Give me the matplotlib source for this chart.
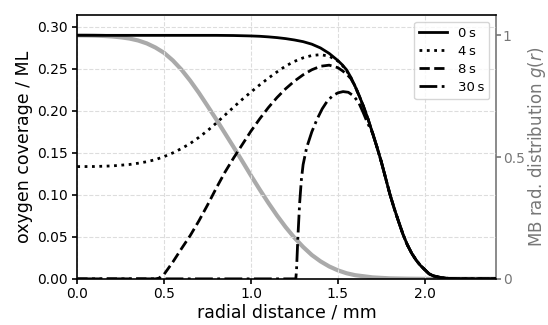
import matplotlib
matplotlib.use("Agg")
import matplotlib.pyplot as plt

# radial distance / mm and oxygen coverage / ML
x_0s = [0.0, 0.8, 0.9, 1.0, 1.05, 1.1, 1.15, 1.2, 1.25, 1.3, 1.35, 1.4, 1.45,
        1.5, 1.525, 1.55, 1.575, 1.6, 1.625, 1.65, 1.675, 1.7, 1.725, 1.75,
        1.775, 1.8, 1.825, 1.85, 1.875, 1.9, 1.925, 1.95, 1.975, 2.0, 2.025,
        2.05, 2.1, 2.15, 2.2, 2.41]
y_0s = [0.2900, 0.2900, 0.2898, 0.2893, 0.2889, 0.2882, 0.2873, 0.2861,
        0.2845, 0.2825, 0.2795, 0.2750, 0.2685, 0.2600, 0.2550, 0.2490,
        0.2400, 0.2290, 0.2170, 0.2040, 0.1895, 0.1735, 0.1570, 0.1395,
        0.1200, 0.1005, 0.0835, 0.0680, 0.0530, 0.0405, 0.0305, 0.0225,
        0.0160, 0.0110, 0.0060, 0.0035, 0.0013, 0.0003, 0.0, 0.0]

x_4s = [0.0, 0.1, 0.2, 0.3, 0.35, 0.4, 0.45, 0.5, 0.55, 0.6, 0.65, 0.7, 0.75,
        0.8, 0.85, 0.9, 0.95, 1.0, 1.05, 1.1, 1.15, 1.2, 1.25, 1.3, 1.35,
        1.4, 1.45, 1.5, 1.525, 1.55, 1.575, 1.6, 1.625, 1.65, 1.675, 1.7,
        1.725, 1.75, 1.775, 1.8, 1.825, 1.85, 1.875, 1.9, 1.925, 1.95, 1.975,
        2.0, 2.025, 2.05, 2.1, 2.15, 2.2, 2.41]
y_4s = [0.1337, 0.1338, 0.1345, 0.1362, 0.1377, 0.1395, 0.1420, 0.1456,
        0.1500, 0.1552, 0.1612, 0.1685, 0.1765, 0.1855, 0.1950, 0.2045,
        0.2138, 0.2225, 0.2310, 0.2390, 0.2465, 0.2535, 0.2590, 0.2632,
        0.2660, 0.2670, 0.2652, 0.2595, 0.2545, 0.2480, 0.2395, 0.2290,
        0.2170, 0.2040, 0.1895, 0.1735, 0.1570, 0.1395, 0.1200, 0.1005,
        0.0835, 0.0680, 0.0530, 0.0405, 0.0305, 0.0225, 0.0160, 0.0110,
        0.0060, 0.0035, 0.0013, 0.0003, 0.0, 0.0]

x_8s = [0.0, 0.45, 0.47, 0.5, 0.55, 0.6, 0.65, 0.7, 0.75, 0.8, 0.85, 0.9,
        0.95, 1.0, 1.05, 1.1, 1.15, 1.2, 1.25, 1.3, 1.35, 1.4, 1.45, 1.5,
        1.525, 1.55, 1.575, 1.6, 1.625, 1.65, 1.675, 1.7, 1.725, 1.75, 1.775,
        1.8, 1.825, 1.85, 1.875, 1.9, 1.925, 1.95, 1.975, 2.0, 2.025, 2.05,
        2.1, 2.15, 2.2, 2.41]
y_8s = [0.0, 0.0, 0.0008, 0.0055, 0.0200, 0.0360, 0.0515, 0.0690, 0.0880,
        0.1080, 0.1270, 0.1440, 0.1600, 0.1760, 0.1905, 0.2040, 0.2160,
        0.2265, 0.2355, 0.2430, 0.2490, 0.2532, 0.2545, 0.2515, 0.2480,
        0.2440, 0.2385, 0.2290, 0.2170, 0.2040, 0.1895, 0.1735, 0.1570,
        0.1395, 0.1200, 0.1005, 0.0835, 0.0680, 0.0530, 0.0405, 0.0305,
        0.0225, 0.0160, 0.0110, 0.0060, 0.0035, 0.0013, 0.0003, 0.0, 0.0]

x_30s = [0.0, 1.258, 1.262, 1.266, 1.27, 1.275, 1.28, 1.29, 1.30, 1.32, 1.35,
         1.38, 1.41, 1.44, 1.47, 1.50, 1.53, 1.56, 1.59, 1.62, 1.645, 1.67,
         1.7, 1.725, 1.75, 1.775, 1.8, 1.825, 1.85, 1.875, 1.9, 1.925, 1.95,
         1.975, 2.0, 2.025, 2.05, 2.1, 2.15, 2.2, 2.41]
y_30s = [0.0, 0.0, 0.010, 0.030, 0.050, 0.070, 0.090, 0.118, 0.136, 0.156,
         0.175, 0.190, 0.2025, 0.2120, 0.2180, 0.2215, 0.2230, 0.2222,
         0.2180, 0.2100, 0.1985, 0.1860, 0.1735, 0.1570, 0.1395, 0.1200,
         0.1005, 0.0835, 0.0680, 0.0530, 0.0405, 0.0305, 0.0225, 0.0160,
         0.0110, 0.0060, 0.0035, 0.0013, 0.0003, 0.0, 0.0]

# Maxwell-Boltzmann radial distribution g(r), right axis
x_mb = [0.0, 0.05, 0.1, 0.15, 0.2, 0.25, 0.3, 0.35, 0.4, 0.45, 0.5, 0.55,
        0.6, 0.65, 0.7, 0.75, 0.8, 0.85, 0.9, 0.95, 1.0, 1.05, 1.1, 1.15,
        1.2, 1.25, 1.3, 1.35, 1.4, 1.45, 1.5, 1.55, 1.6, 1.7, 1.8, 1.9, 2.0,
        2.41]
g_mb = [1.000, 0.9997, 0.999, 0.9976, 0.9955, 0.992, 0.987, 0.979, 0.967,
        0.950, 0.928, 0.897, 0.859, 0.814, 0.764, 0.710, 0.655, 0.598, 0.541,
        0.483, 0.424, 0.367, 0.312, 0.260, 0.212, 0.169, 0.131, 0.098, 0.072,
        0.051, 0.035, 0.023, 0.015, 0.006, 0.002, 0.0007, 0.0, 0.0]

series = [("0\u2009s", x_0s, y_0s, "-"),
          ("4\u2009s", x_4s, y_4s, ":"),
          ("8\u2009s", x_8s, y_8s, "--"),
          ("30\u2009s", x_30s, y_30s, "-.")]

grey = "#777777"

fig, ax = plt.subplots(figsize=(5.48, 3.25), dpi=100)
fig.subplots_adjust(left=0.141, right=0.905, bottom=0.142, top=0.954)
ax2 = ax.twinx()

ax2.plot(x_mb, g_mb, color="#aaaaaa", lw=3, solid_capstyle="butt")
ax2.set_ylim(0, 1.0838)
ax2.set_yticks([0, 0.5, 1])
ax2.set_yticklabels(["0", "0.5", "1"])
ax2.tick_params(axis="y", colors=grey, labelsize=10, width=1.2, pad=1.5)
ax2.set_ylabel("MB rad. distribution $g(r)$", color=grey, fontsize=12,
               labelpad=1)
ax2.spines["right"].set_color(grey)
ax2.spines["right"].set_linewidth(1.2)
for s in ["top", "left", "bottom"]:
    ax2.spines[s].set_visible(False)

ax.set_zorder(ax2.get_zorder() + 1)
ax.patch.set_visible(False)

for label, xs, ys, ls in series:
    ax.plot(xs, ys, color="black", lw=2, ls=ls, label=label)

ax.set_xlim(0, 2.41)
ax.set_ylim(0, 0.3143)
ax.set_xticks([0.0, 0.5, 1.0, 1.5, 2.0])
ax.set_yticks([0.0, 0.05, 0.10, 0.15, 0.20, 0.25, 0.30])
ax.set_xticklabels(["0.0", "0.5", "1.0", "1.5", "2.0"])
ax.set_yticklabels(["0.00", "0.05", "0.10", "0.15", "0.20", "0.25", "0.30"])
ax.tick_params(labelsize=10, width=1.2)
ax.tick_params(axis="x", pad=2.5)
ax.grid(True, ls="--", color="#dddddd", lw=0.8)
ax.set_axisbelow(True)
for s in ax.spines.values():
    s.set_linewidth(1.2)
ax.spines["right"].set_visible(False)
ax.set_xlabel("radial distance / mm", fontsize=12.5, labelpad=1.5)
ax.set_ylabel("oxygen coverage / ML", fontsize=12.5, labelpad=3)
ax.legend(loc="upper right", fontsize=9.5, labelspacing=0.38,
          handlelength=2.1)

fig.savefig("out.png", dpi=100)
